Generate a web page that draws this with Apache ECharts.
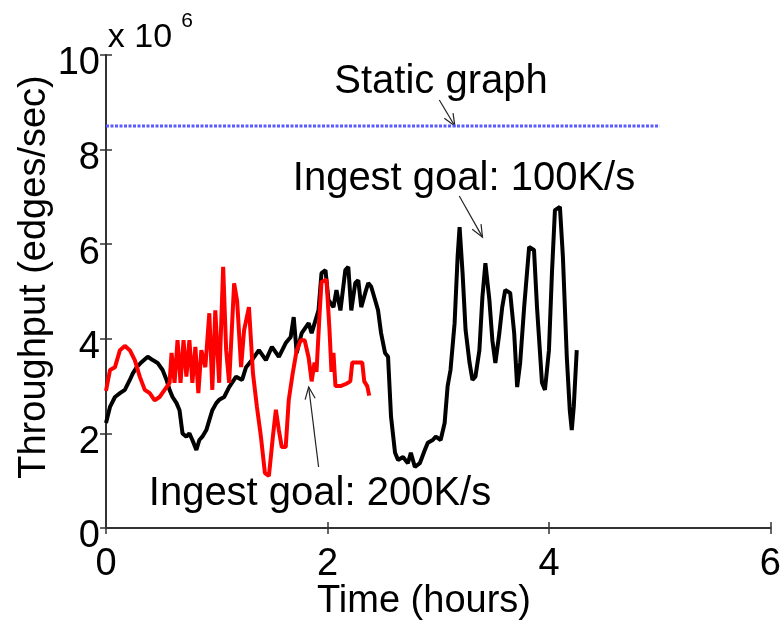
<!DOCTYPE html>
<html>
<head>
<meta charset="utf-8">
<script src="https://cdn.jsdelivr.net/npm/echarts@6/dist/echarts.min.js"></script>
<style>
  html, body { margin: 0; padding: 0; background: #fff; }
  #chart { width: 784px; height: 626px; }
</style>
</head>
<body>
<div id="chart"></div>
<script>
  // x in hours, y in 10^6 edges/sec
  var xTicks = [0, 2, 4, 6];
  var yTicks = [0, 2, 4, 6, 8, 10];

  var staticGraph = [[0, 8.5], [5, 8.5]];

  var goal100K = [
    [0.00, 2.22], [0.036, 2.56], [0.081, 2.77], [0.126, 2.85], [0.170, 2.92], [0.215, 3.13],
    [0.242, 3.27], [0.278, 3.40], [0.323, 3.51], [0.377, 3.62], [0.422, 3.55], [0.466, 3.49],
    [0.511, 3.34], [0.547, 3.13], [0.574, 2.92], [0.601, 2.77], [0.637, 2.64], [0.664, 2.49],
    [0.691, 2.00], [0.726, 1.93], [0.753, 2.00], [0.780, 1.86], [0.816, 1.65], [0.843, 1.86],
    [0.870, 1.93], [0.906, 2.07], [0.933, 2.28], [0.960, 2.49], [0.996, 2.64], [1.022, 2.71],
    [1.067, 2.77], [1.112, 2.98], [1.175, 3.20], [1.229, 3.13], [1.265, 3.40], [1.318, 3.55],
    [1.381, 3.76], [1.444, 3.55], [1.498, 3.83], [1.561, 3.62], [1.623, 3.91], [1.668, 4.04],
    [1.695, 4.46], [1.722, 3.70], [1.767, 4.12], [1.830, 4.33], [1.857, 4.12], [1.919, 4.60],
    [1.946, 5.39], [1.982, 5.45], [2.009, 4.82], [2.054, 4.67], [2.081, 5.03], [2.117, 4.60],
    [2.161, 5.45], [2.188, 5.52], [2.215, 4.60], [2.251, 5.18], [2.278, 5.24], [2.305, 4.67],
    [2.341, 4.97], [2.368, 5.18], [2.395, 5.10], [2.430, 4.82], [2.457, 4.60], [2.484, 4.12],
    [2.520, 3.70], [2.547, 3.62], [2.574, 2.35], [2.610, 1.59], [2.637, 1.44], [2.682, 1.50],
    [2.726, 1.37], [2.753, 1.59], [2.789, 1.29], [2.834, 1.37], [2.879, 1.65], [2.906, 1.80],
    [2.951, 1.86], [2.978, 1.93], [3.022, 1.86], [3.058, 2.22], [3.085, 3.00], [3.111, 3.34],
    [3.148, 4.33], [3.175, 5.73], [3.193, 6.36], [3.220, 5.39], [3.247, 4.19], [3.283, 3.49],
    [3.309, 3.13], [3.336, 3.20], [3.372, 3.76], [3.399, 4.88], [3.426, 5.60], [3.462, 4.82],
    [3.489, 3.97], [3.516, 3.49], [3.552, 4.12], [3.578, 4.67], [3.605, 5.03], [3.650, 4.97],
    [3.686, 4.12], [3.713, 2.98], [3.740, 3.49], [3.776, 4.67], [3.821, 5.94], [3.865, 5.88],
    [3.892, 4.67], [3.937, 3.07], [3.964, 2.92], [4.000, 3.76], [4.027, 5.39], [4.054, 6.72],
    [4.099, 6.79], [4.126, 5.73], [4.161, 3.62], [4.188, 2.49], [4.206, 2.07], [4.224, 2.56],
    [4.251, 3.76]
  ];

  var goal200K = [
    [0.00, 2.90], [0.036, 3.34], [0.081, 3.40], [0.126, 3.76], [0.170, 3.85], [0.215, 3.76],
    [0.260, 3.55], [0.305, 3.20], [0.350, 2.92], [0.395, 2.85], [0.439, 2.70], [0.484, 2.77],
    [0.529, 2.92], [0.574, 3.07], [0.592, 3.70], [0.619, 3.07], [0.646, 3.97], [0.673, 3.07],
    [0.700, 3.97], [0.726, 3.20], [0.753, 3.97], [0.780, 3.07], [0.807, 3.83], [0.834, 2.85],
    [0.861, 3.76], [0.897, 3.40], [0.933, 4.54], [0.960, 2.92], [0.987, 4.60], [1.022, 3.07],
    [1.058, 5.52], [1.085, 3.76], [1.112, 3.07], [1.157, 5.17], [1.184, 4.80], [1.220, 3.40],
    [1.247, 4.18], [1.291, 4.67], [1.327, 3.27], [1.363, 2.56], [1.399, 1.93], [1.435, 1.16],
    [1.471, 1.10], [1.507, 1.93], [1.534, 2.50], [1.561, 2.07], [1.587, 1.71], [1.623, 1.71],
    [1.650, 2.70], [1.686, 3.27], [1.722, 3.76], [1.758, 3.97], [1.794, 3.97], [1.830, 3.60],
    [1.857, 3.10], [1.883, 3.50], [1.901, 3.30], [1.928, 4.50], [1.946, 5.20], [1.991, 5.25],
    [2.018, 4.20], [2.036, 3.30], [2.054, 3.70], [2.072, 3.00], [2.117, 3.00], [2.170, 3.05],
    [2.206, 3.10], [2.224, 3.50], [2.314, 3.50], [2.332, 3.10], [2.359, 3.00], [2.377, 2.80]
  ];

  // annotation arrows, [from, to] in data units
  var arrowStatic = [[3.01, 9.05], [3.15, 8.5]];
  var arrow100K = [[3.19, 7.02], [3.40, 6.15]];
  var arrow200K = [[1.92, 1.29], [1.83, 2.98]];

  var font = "'Liberation Sans', Arial, sans-serif";

  var chart = echarts.init(document.getElementById("chart"));

  var frameAxis = {
    min: 0,
    interval: 2,
    axisLine: {show: true, lineStyle: {color: "#333", width: 2}},
    axisTick: {show: true, inside: true, length: 6, lineStyle: {color: "#333", width: 1.5}},
    splitLine: {show: false}
  };

  chart.setOption({
    animation: false,
    backgroundColor: "#fff",
    grid: {left: 106, top: 55, right: 9, bottom: 98},
    xAxis: [
      Object.assign({}, frameAxis, {
        type: "value",
        max: xTicks[xTicks.length - 1],
        position: "bottom",
        axisLabel: {color: "#000", fontSize: 38, fontFamily: font, margin: 18}
      }),
      Object.assign({}, frameAxis, {
        type: "value",
        max: xTicks[xTicks.length - 1],
        position: "top",
        axisLabel: {show: false}
      })
    ],
    yAxis: [
      Object.assign({}, frameAxis, {
        type: "value",
        max: yTicks[yTicks.length - 1],
        position: "left",
        axisLabel: {
          color: "#000", fontSize: 38, fontFamily: font, margin: 6,
          formatter: function (v) { return "{v|" + v + "}"; },
          rich: {v: {fontSize: 38, fontFamily: font, color: "#000", padding: [18, 0, 0, 0]}}
        }
      }),
      Object.assign({}, frameAxis, {
        type: "value",
        max: yTicks[yTicks.length - 1],
        position: "right",
        axisLabel: {show: false}
      })
    ],
    series: [
      {
        name: "Static graph",
        type: "line",
        data: staticGraph,
        showSymbol: false,
        lineStyle: {color: "#5a5aff", width: 3, type: [3, 1.5]}
      },
      {
        name: "Ingest goal: 100K/s",
        type: "line",
        data: goal100K,
        showSymbol: false,
        lineStyle: {color: "#000", width: 4}
      },
      {
        name: "Ingest goal: 200K/s",
        type: "line",
        data: goal200K,
        showSymbol: false,
        lineStyle: {color: "#f00", width: 4}
      }
    ]
  });

  function arrow(pair) {
    var a = chart.convertToPixel({gridIndex: 0}, pair[0]);
    var b = chart.convertToPixel({gridIndex: 0}, pair[1]);
    var ang = Math.atan2(b[1] - a[1], b[0] - a[0]);
    var len = 13, spread = 0.4;
    var h1 = [b[0] - len * Math.cos(ang - spread), b[1] - len * Math.sin(ang - spread)];
    var h2 = [b[0] - len * Math.cos(ang + spread), b[1] - len * Math.sin(ang + spread)];
    return [
      {type: "polyline", shape: {points: [a, b]}, style: {stroke: "#222", lineWidth: 1.2, fill: null}},
      {type: "polyline", shape: {points: [h1, b, h2]}, style: {stroke: "#222", lineWidth: 1.2, fill: null}}
    ];
  }

  function label(text, x, y, size, extra) {
    return Object.assign({
      type: "text",
      x: x,
      y: y,
      style: {text: text, fill: "#000", font: size + "px " + font, textAlign: "center", textVerticalAlign: "middle"}
    }, extra || {});
  }

  var graphic = []
    .concat(arrow(arrowStatic), arrow(arrow100K), arrow(arrow200K))
    .concat([
      label("Static graph", 441, 82, 40),
      label("Ingest goal: 100K/s", 464, 179, 40),
      label("Ingest goal: 200K/s", 320, 494, 40),
      label("Time (hours)", 424, 602, 38),
      label("Throughput (edges/sec)", 35, 277, 38, {rotation: Math.PI / 2}),
      label("x 10", 140, 38, 34),
      label("6", 187, 21, 21)
    ]);

  chart.setOption({graphic: graphic});
</script>
</body>
</html>
